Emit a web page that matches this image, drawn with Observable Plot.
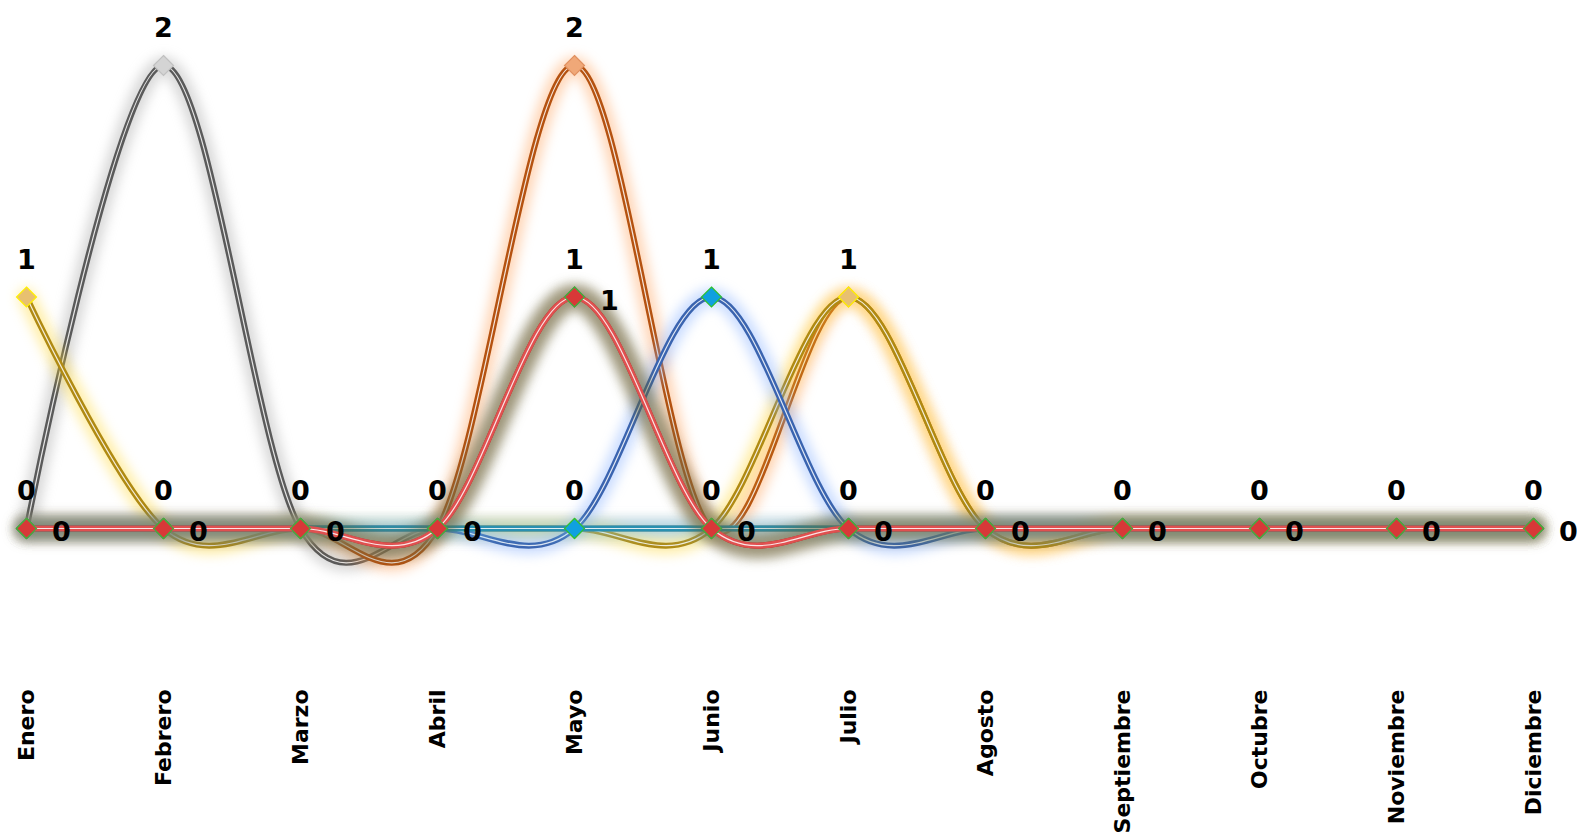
<!DOCTYPE html>
<html><head><meta charset="utf-8">
<script src="https://cdn.jsdelivr.net/npm/d3@7"></script>
<script src="https://cdn.jsdelivr.net/npm/@observablehq/plot@0.6"></script>
<style>
body{margin:0;background:#fff;}
svg{overflow:visible;}
</style>
</head><body><div id="chart"></div>
<script>
const meses = ["Enero","Febrero","Marzo","Abril","Mayo","Junio","Julio","Agosto","Septiembre","Octubre","Noviembre","Diciembre"];
const gris     = [0,2,0,0,0,0,0,0,0,0,0,0];
const naranja  = [0,0,0,0,2,0,1,0,0,0,0,0];
const amarillo = [1,0,0,0,0,0,1,0,0,0,0,0];
const rojo     = [0,0,0,0,1,0,0,0,0,0,0,0];
const azul     = [0,0,0,0,0,1,0,0,0,0,0,0];
const turquesa = [0,0,0,0,0,0,0,0,0,0,0,0];
const rosa     = [0,0,0,0,1,0,0,0,0,0,0,0];

const series = [
  {name:"Gris", values:gris, line:"#5a5a5a", glow:"#a0a0a0", fill:"#d4d4d4", edge:"#c0c0c0"},
  {name:"Naranja", values:naranja, line:"#b55210", glow:"#ff9a50", fill:"#f0a878", edge:"#e09060"},
  {name:"Amarillo", values:amarillo, line:"#b08a12", glow:"#ffd830", fill:"#e8c070", edge:"#fff000"},
  {name:"Rojo", values:rojo, line:"#c00000", glow:"#c09090", fill:"#d03030", edge:"#30b030"},
  {name:"Azul", values:azul, line:"#3a64b0", glow:"#7eaaff", fill:"#10a0e0", edge:"#30c030"},
  {name:"Turquesa", values:turquesa, line:"#2a90b0", glow:"#80d0f0", fill:"#10a0e0", edge:"#30c030"},
  {name:"Rosa", values:rosa, line:"#e05050", glow:"#60602e", fill:"#d83838", edge:"#40b040"}
];

const curve = d3.curveCardinal.tension(0);
const marks = [];
for (const s of series) {
  const data = meses.map((m,i)=>({mes:m, v:s.values[i]}));
  marks.push(Plot.line(data,{x:"mes", y:"v", curve, stroke:s.glow, strokeWidth:s.name==="Rosa"?26:18, strokeOpacity:s.name==="Rosa"?0.55:0.4, ariaDescription:"glow"}));
  marks.push(Plot.line(data,{x:"mes", y:"v", curve, stroke:s.line, strokeWidth:6}));
  marks.push(Plot.line(data,{x:"mes", y:"v", curve, stroke:"#ffffff", strokeWidth:1.2, strokeOpacity:0.85}));
  marks.push(Plot.dot(data,{x:"mes", y:"v", symbol:"diamond2", r:9, fill:s.fill, stroke:s.edge, strokeWidth:1.2}));
}

// Data labels above points (distinct values per month among series with labels above)
const arriba = [];
meses.forEach((m,i)=>{
  const vals = new Set(series.filter(s=>s.name!=="Rosa").map(s=>s.values[i]));
  for (const v of vals) arriba.push({mes:m, v});
});
const derecha = meses.map((m,i)=>({mes:m, v:rosa[i]}));

marks.push(Plot.text(arriba,{x:"mes", y:"v", text:d=>String(d.v), dy:-37, fontSize:27, fontWeight:"bold", fill:"#000"}));
marks.push(Plot.text(derecha,{x:"mes", y:"v", text:d=>String(d.v), dx:35, dy:4, fontSize:27, fontWeight:"bold", fill:"#000"}));
marks.push(Plot.axisX({anchor:"bottom", tickSize:0, tickRotate:-90, tickPadding:161, fontSize:22, fontWeight:"bold", label:null}));

const chart = Plot.plot({
  width:1577, height:836,
  marginLeft:24, marginRight:43, marginTop:65, marginBottom:308,
  style:{fontFamily:"'DejaVu Sans', sans-serif", background:"#fff", color:"#000"},
  x:{type:"point", domain:meses, padding:0},
  y:{domain:[0,2], axis:null},
  marks
});
document.getElementById("chart").appendChild(chart);
d3.select(chart).selectAll('g[aria-description="glow"]').style("filter","blur(6px)");
</script>
</body></html>
